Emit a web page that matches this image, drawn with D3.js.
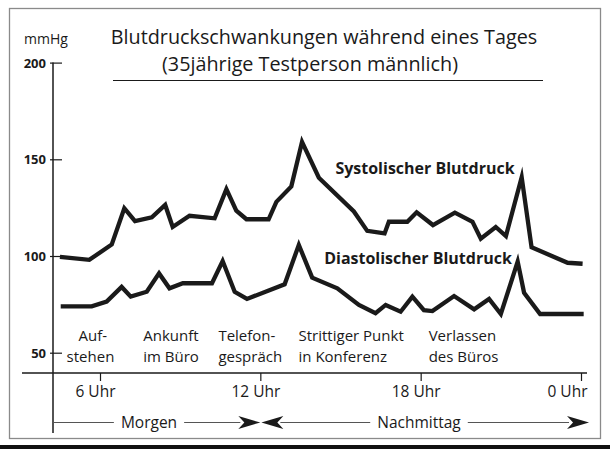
<!DOCTYPE html>
<html>
<head>
<meta charset="utf-8">
<script src="https://cdn.jsdelivr.net/npm/d3@7"></script>
<style>
  html, body { margin: 0; padding: 0; background: #fff; }
  svg { display: block; }
  text { font-family: "Open Sans", "Noto Sans", sans-serif; fill: #1a1a1a; }
</style>
</head>
<body>
<svg id="chart" width="610" height="449"></svg>
<script>
// ---- data (hour of day, mmHg) ----
const systolic = [
  [4.5, 99.6], [5.6, 98], [6.44, 106], [6.91, 124.7], [7.31, 118], [7.94, 120],
  [8.44, 126.4], [8.72, 115], [9.35, 120.8], [10.29, 119.5], [10.73, 134.6],
  [11.1, 123.4], [11.48, 119], [12.31, 119], [12.6, 128], [13.16, 136],
  [13.56, 159], [14.19, 140.5], [15.5, 123], [16.0, 113], [16.65, 111.7],
  [16.81, 117.7], [17.5, 117.7], [17.85, 122.6], [18.46, 116], [19.28, 122.4],
  [19.94, 117.7], [20.25, 109], [20.81, 115], [21.19, 110.3], [21.78, 140.7],
  [22.15, 104.5], [23.5, 96.5], [24.06, 96]
];
const diastolic = [
  [4.53, 74], [5.69, 74], [6.25, 76.4], [6.81, 84], [7.15, 79], [7.75, 81.5],
  [8.21, 91], [8.6, 83.3], [9.1, 85.9], [10.19, 85.9], [10.59, 97.4],
  [11.04, 81.5], [11.5, 77.8], [12.91, 85.4], [13.44, 105.7], [13.94, 88.8],
  [14.88, 83.3], [15.69, 74.7], [16.31, 70.4], [16.69, 74.7], [17.25, 71.2],
  [17.69, 79], [18.12, 72], [18.44, 71.5], [19.25, 79.3], [20.0, 72.4],
  [20.56, 77.8], [21.0, 70], [21.63, 97.1], [21.87, 81], [22.47, 70], [24.1, 70]
];
const yTicks = [50, 100, 150, 200];
const xTicks = [6, 12, 18, 24];
const xTickLabels = ["6 Uhr", "12 Uhr", "18 Uhr", "0 Uhr"];
const seriesLabels = ["Systolischer Blutdruck", "Diastolischer Blutdruck"];
const eventLabels = [
  ["Auf-", "stehen"], ["Ankunft", "im Büro"], ["Telefon-", "gespräch"],
  ["Strittiger Punkt", "in Konferenz"], ["Verlassen", "des Büros"]
];
const eventHours = [4.75, 7.62, 10.43, 13.43, 18.3];
const periods = ["Morgen", "Nachmittag"];
const periodHours = [[4.2, 12], [12, 24.3]];
const titleLines = ["Blutdruckschwankungen während eines Tages", "(35jährige Testperson männlich)"];
const unitLabel = "mmHg";

// ---- layout ----
const svg = d3.select("#chart");
const x = d3.scaleLinear().domain([6, 24]).range([100, 581]);
const y = d3.scaleLinear().domain([50, 200]).range([352.7, 62.6]);
const axisX = 53, axisY = 373;
const ink = "#1a1a1a";
const regular = 400;

// frame
svg.append("rect").attr("x", 9.5).attr("y", 8.5).attr("width", 591).attr("height", 430)
  .attr("fill", "none").attr("stroke", "#8a8a8a").attr("stroke-width", 1.3);
svg.append("rect").attr("x", 0).attr("y", 445).attr("width", 610).attr("height", 4).attr("fill", "#111");

// title
svg.append("text").attr("x", 46).attr("y", 44).attr("text-anchor", "middle")
  .attr("font-size", 14).attr("font-weight", regular).text(unitLabel);
svg.append("text").attr("x", 324).attr("y", 44).attr("text-anchor", "middle")
  .attr("font-size", 19.8).attr("font-weight", regular).text(titleLines[0]);
svg.append("text").attr("x", 310).attr("y", 71).attr("text-anchor", "middle")
  .attr("font-size", 19.8).attr("font-weight", regular).text(titleLines[1]);
svg.append("line").attr("x1", 113).attr("x2", 543).attr("y1", 80.5).attr("y2", 80.5)
  .attr("stroke", ink).attr("stroke-width", 1);

// y axis
svg.append("line").attr("x1", axisX).attr("x2", axisX).attr("y1", y(200)).attr("y2", 433)
  .attr("stroke", ink).attr("stroke-width", 1.5);
const yg = svg.append("g").attr("transform", `translate(${axisX},0)`)
  .call(d3.axisRight(y).tickValues(yTicks).tickSize(9).tickFormat(() => ""));
yg.select(".domain").remove();
yg.selectAll(".tick line").attr("stroke", ink).attr("stroke-width", 1.2).attr("x1", -3);
yg.selectAll(".tick").append("text").attr("x", -7).attr("dy", "0.35em")
  .attr("text-anchor", "end").attr("font-size", 13).attr("font-weight", 700)
  .style("fill", ink).text(d => d);

// x axis
svg.append("line").attr("x1", 22).attr("x2", x(24) + 6).attr("y1", axisY).attr("y2", axisY)
  .attr("stroke", ink).attr("stroke-width", 1.5);
const xg = svg.append("g").attr("transform", `translate(0,${axisY})`)
  .call(d3.axisBottom(x).tickValues(xTicks).tickSize(8).tickFormat((d, i) => xTickLabels[i]));
xg.select(".domain").remove();
xg.selectAll(".tick line").attr("stroke", ink).attr("stroke-width", 1.2);
xg.selectAll(".tick text").attr("font-size", 15.5).attr("font-weight", regular)
  .attr("y", 13).attr("dx", (d, i) => i === 3 ? -14 : -5).style("fill", ink)
  .style("font-family", '"Open Sans", sans-serif');

// series lines
const line = d3.line().x(d => x(d[0])).y(d => y(d[1]));
[systolic, diastolic].forEach(s => {
  svg.append("path").datum(s).attr("d", line).attr("fill", "none")
    .attr("stroke", ink).attr("stroke-width", 4.3).attr("stroke-linejoin", "miter")
    .attr("stroke-miterlimit", 6);
});

// series labels
svg.append("text").attr("x", 425).attr("y", 174).attr("text-anchor", "middle")
  .attr("font-size", 16).attr("font-weight", 700).text(seriesLabels[0]);
svg.append("text").attr("x", 418).attr("y", 264).attr("text-anchor", "middle")
  .attr("font-size", 16).attr("font-weight", 700).text(seriesLabels[1]);

// event annotations (one text element per line)
eventLabels.forEach((lines, i) => {
  lines.forEach((s, j) => {
    svg.append("text").attr("font-size", 15).attr("font-weight", regular)
      .attr("x", x(eventHours[i]) + (i === 0 && j === 0 ? 12 : 0))
      .attr("y", 341 + j * 20.5).text(s);
  });
});

// period row
const py = 422.5;
const arrow = "M0,0 L-22,-6.5 L-16,0 L-22,6.5 Z";
periods.forEach((p, i) => {
  const [h0, h1] = periodHours[i];
  const x0 = i === 0 ? axisX : x(h0);
  const x1 = x(h1);
  const cx = i === 0 ? 149 : 419;
  const txt = svg.append("text").attr("x", cx).attr("y", py + 5.5).attr("text-anchor", "middle")
    .attr("font-size", 15.5).attr("font-weight", regular).text(p);
  const w = txt.node().getComputedTextLength();
  const gap = 7;
  const lx0 = i === 0 ? x0 : x0 + 20;
  const lx1 = x1 - 20;
  svg.append("line").attr("x1", lx0).attr("x2", cx - w / 2 - gap).attr("y1", py).attr("y2", py)
    .attr("stroke", "#555").attr("stroke-width", 1.1);
  svg.append("line").attr("x1", cx + w / 2 + gap).attr("x2", lx1).attr("y1", py).attr("y2", py)
    .attr("stroke", "#555").attr("stroke-width", 1.1);
  svg.append("path").attr("d", arrow).attr("fill", ink)
    .attr("transform", `translate(${x1},${py})`);
  if (i === 1) {
    svg.append("path").attr("d", arrow).attr("fill", ink)
      .attr("transform", `translate(${x0 + 1},${py}) rotate(180)`);
  }
});
</script>
</body>
</html>
